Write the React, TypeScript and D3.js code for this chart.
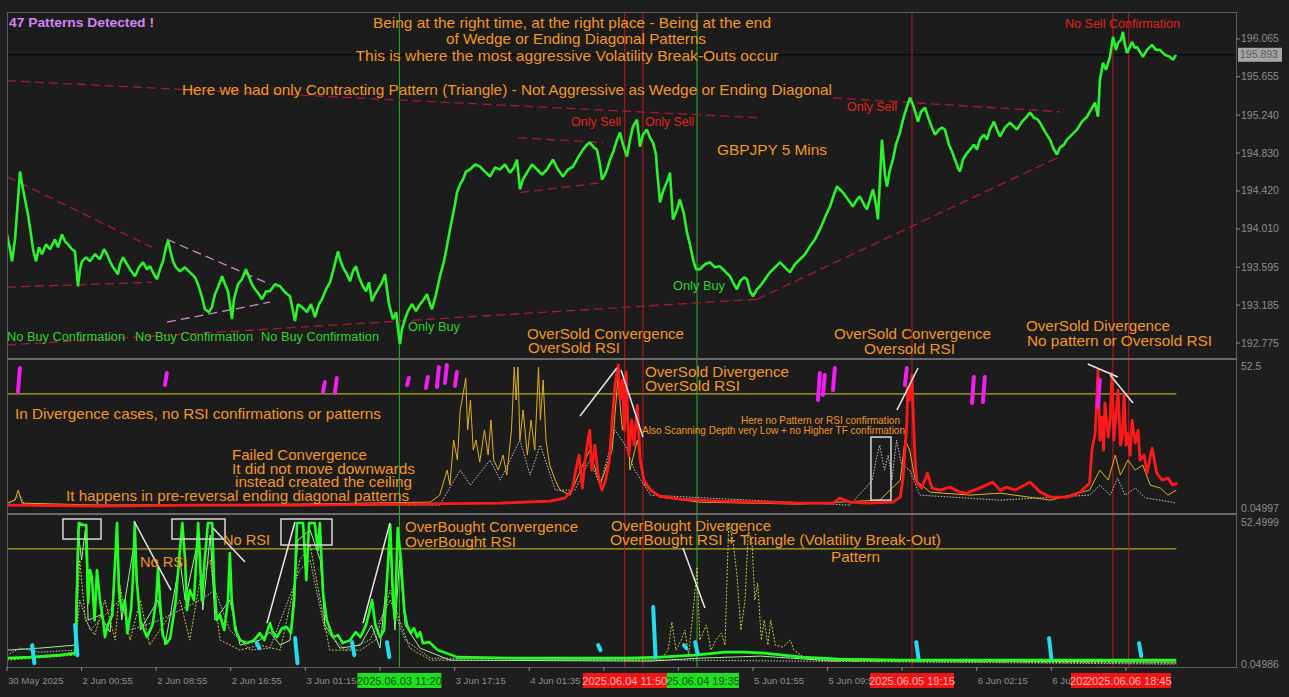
import React from 'react';
import * as d3 from 'd3';

const W = 1289, H = 697;
const X0 = 7, X1 = 1236;
const P1 = { top: 12, bottom: 358 };
const P2 = { top: 361, bottom: 511 };
const P3 = { top: 516, bottom: 666 };
const FONT = '"Liberation Sans", Arial, sans-serif';

// time axis: hours since chart start, one tick every 8 hours
const tickHours = [0, 8, 16, 24, 32, 40, 48, 56, 64, 72, 80, 88, 96, 104, 112, 120];
const tickLabels = ["30 May 2025", "2 Jun 00:55", "2 Jun 08:55", "2 Jun 16:55", "3 Jun 01:15", "3 Jun 09:15", "3 Jun 17:15", "4 Jun 01:35", "4 Jun 09:35", "4 Jun 17:35", "5 Jun 01:55", "5 Jun 09:55", "5 Jun 17:55", "6 Jun 02:15", "6 Jun 10:15", "6 Jun 18:15"];

const priceTicks = [196.065, 195.655, 195.240, 194.830, 194.420, 194.010, 193.595, 193.185, 192.775];
const currentPrice = 195.893;
const rsiLevel = 41;

// GBPJPY M5 close (hour, price)
const priceSeries: [number, number][] = [
  [0,193.950],[0.32,193.789],[0.54,193.659],[0.86,193.896],[1.18,194.328],[1.39,194.630],[1.72,194.436],[2.04,194.274],[2.25,194.166],[2.57,193.950],[2.79,193.789],[3.11,193.659],[3.43,193.810],[3.75,193.735],[4.18,193.842],[4.61,193.789],[5.15,193.896],[5.47,193.810],[5.90,193.950],[6.22,193.875],[6.54,193.842],[6.97,193.789],[7.29,193.767],[7.61,193.389],[7.83,193.573],[8.04,193.659],[8.47,193.702],[8.90,193.659],[9.44,193.735],[9.97,193.681],[10.40,193.789],[10.72,193.735],[11.04,193.659],[11.37,193.594],[11.90,193.519],[12.12,193.627],[12.44,193.702],[12.87,193.627],[13.19,193.573],[13.73,193.497],[14.15,193.594],[14.58,193.648],[15.01,193.573],[15.34,193.605],[15.76,193.519],[16.09,193.465],[16.41,193.573],[16.73,193.659],[17.05,193.810],[17.27,193.886],[17.48,193.789],[17.80,193.659],[18.12,193.594],[18.55,193.551],[19.09,193.594],[19.62,193.540],[20.16,193.486],[20.48,193.411],[20.91,193.271],[21.23,193.141],[21.66,193.109],[21.98,193.163],[22.30,193.303],[22.63,193.379],[23.06,193.497],[23.38,193.411],[23.70,193.335],[24.13,193.033],[24.34,193.249],[24.77,193.411],[25.20,193.465],[25.63,193.573],[25.84,193.519],[26.27,193.411],[26.60,193.357],[27.03,193.303],[27.35,193.249],[27.78,193.335],[28.20,193.335],[28.74,193.411],[29.28,193.389],[29.81,193.325],[30.35,193.281],[30.88,193.012],[31.20,193.195],[31.63,193.163],[32.17,193.109],[32.60,193.195],[33.03,193.055],[33.46,193.195],[33.78,193.249],[34.21,193.357],[34.64,193.432],[35.07,193.594],[35.50,193.767],[35.71,193.681],[36.03,193.594],[36.46,193.519],[36.78,193.443],[37.10,193.551],[37.43,193.605],[37.75,193.486],[38.07,193.411],[38.50,193.335],[38.82,193.432],[39.14,193.227],[39.46,193.303],[39.79,193.357],[40.21,193.432],[40.54,193.519],[40.75,193.357],[40.97,193.195],[41.39,193.033],[41.72,193.109],[41.93,192.925],[42.14,192.764],[42.36,192.925],[42.68,193.033],[43.00,193.120],[43.43,193.195],[43.86,193.120],[44.29,193.195],[44.72,193.249],[45.04,193.303],[45.36,193.195],[45.58,193.141],[46.01,193.303],[46.43,193.497],[46.86,193.659],[47.18,193.821],[47.51,194.004],[47.72,194.112],[48.04,194.274],[48.26,194.403],[48.58,194.490],[48.90,194.544],[49.22,194.630],[49.65,194.652],[50.19,194.706],[50.72,194.684],[51.26,194.630],[51.80,194.576],[52.33,194.673],[52.87,194.652],[53.40,194.706],[53.94,194.619],[54.37,194.673],[54.69,194.760],[55.01,194.436],[55.33,194.544],[55.76,194.619],[56.30,194.706],[56.84,194.652],[57.37,194.598],[57.91,194.652],[58.23,194.706],[58.55,194.760],[59.09,194.652],[59.62,194.576],[60.16,194.652],[60.70,194.684],[61.23,194.781],[61.77,194.867],[62.20,194.921],[62.52,194.943],[62.95,194.889],[63.27,194.867],[63.59,194.706],[63.81,194.544],[64.13,194.598],[64.34,194.652],[64.67,194.760],[64.99,194.835],[65.42,194.975],[65.74,195.051],[66.06,194.921],[66.49,194.792],[66.81,194.975],[67.13,195.116],[67.56,195.191],[67.88,194.900],[68.20,195.029],[68.63,195.083],[68.95,194.997],[69.28,194.943],[69.60,194.814],[69.71,194.652],[70.03,194.296],[70.35,194.414],[70.56,194.468],[70.88,194.544],[71.10,194.619],[71.42,194.112],[71.85,194.220],[72.17,194.328],[72.60,194.166],[72.92,193.972],[73.24,193.842],[73.57,193.681],[73.89,193.573],[74.32,193.573],[74.85,193.627],[75.39,193.648],[75.92,193.594],[76.46,193.605],[77.00,193.551],[77.53,193.497],[77.96,193.411],[78.28,193.357],[78.61,193.443],[79.04,193.486],[79.36,193.465],[79.68,193.335],[80.00,193.281],[80.43,193.357],[80.75,193.389],[81.29,193.465],[81.82,193.540],[82.36,193.594],[82.90,193.648],[83.43,193.594],[83.97,193.540],[84.50,193.627],[85.04,193.681],[85.58,193.735],[86.11,193.821],[86.65,193.896],[87.18,194.004],[87.72,194.134],[88.26,194.252],[88.69,194.382],[89.01,194.468],[89.33,194.436],[89.65,194.403],[90.19,194.328],[90.72,194.252],[91.15,194.328],[91.47,194.360],[91.90,194.274],[92.22,194.220],[92.55,194.328],[92.87,194.436],[93.19,194.274],[93.40,194.112],[93.62,194.544],[93.83,194.975],[94.15,194.598],[94.37,194.468],[94.69,194.652],[95.01,194.760],[95.33,194.921],[95.76,195.051],[96.09,195.191],[96.41,195.299],[96.84,195.428],[97.16,195.353],[97.48,195.245],[97.69,195.170],[98.02,195.277],[98.45,195.320],[98.87,195.191],[99.20,195.105],[99.52,195.029],[99.95,195.083],[100.27,195.105],[100.59,195.083],[101.02,194.921],[101.34,194.846],[101.66,194.760],[101.98,194.673],[102.20,194.630],[102.52,194.760],[102.84,194.814],[103.27,194.867],[103.70,194.921],[104.02,194.867],[104.34,194.975],[104.77,195.029],[105.09,194.975],[105.41,195.083],[105.84,195.170],[106.17,195.083],[106.49,195.008],[107.02,195.105],[107.56,195.159],[107.99,195.116],[108.31,195.083],[108.85,195.170],[109.28,195.213],[109.71,195.267],[110.13,195.213],[110.56,195.191],[110.78,195.159],[111.31,195.062],[111.85,194.975],[112.28,194.867],[112.60,194.814],[112.92,194.889],[113.35,194.921],[113.67,194.975],[114.21,195.029],[114.75,195.083],[115.28,195.170],[115.82,195.223],[116.25,195.299],[116.68,195.374],[117.00,195.223],[117.21,195.623],[117.53,195.806],[117.86,195.731],[118.28,195.871],[118.61,196.087],[118.93,195.946],[119.14,196.022],[119.46,196.054],[119.68,196.141],[119.89,196.000],[120.11,195.914],[120.43,195.979],[120.64,196.033],[120.96,195.968],[121.18,195.979],[121.50,195.925],[121.82,195.871],[122.25,195.946],[122.79,196.000],[123.22,195.946],[123.65,195.946],[124.18,195.892],[124.71,195.871],[125.04,195.838],[125.36,195.892]
];

// trend lines on price panel [h1, p1, h2, p2]
const redTrends: [number, number, number, number][] = [
  [0, 195.612, 80.43, 195.213],
  [88.58, 195.428, 112.92, 195.277],
  [0, 194.576, 15.55, 193.810],
  [0, 193.379, 15.55, 193.432],
  [0, 192.753, 80.43, 193.249],
  [80.43, 193.249, 112.92, 194.792],
  [54.80, 194.997, 63.91, 194.943],
  [55.01, 194.403, 63.91, 194.511],
];
const pinkTrends: [number, number, number, number][] = [
  [17.16, 193.896, 28.20, 193.411],
  [17.16, 193.001, 28.20, 193.217],
];

// signal events (vertical lines + time labels), in drawing order
const events = [
  { h: 68.2, label: "2025.06.04 13:50", color: "red" },
  { h: 74.0, label: "2025.06.04 19:35", color: "green" },
  { h: 66.25, label: "2025.06.04 11:50", color: "red" },
  { h: 42.08, label: "2025.06.03 11:20", color: "green" },
  { h: 97.05, label: "2025.06.05 19:15", color: "red" },
  { h: 118.6, label: "2025.06.06 16:50", color: "red" },
  { h: 120.3, label: "2025.06.06 18:45", color: "red" },
];

// Oscillator 1 (oversold scanner)
const osc1Red: [number, number][] = [
  [0,2.1],[9.97,1.75],[20.7,2.1],[31.4,2.1],[42.1,2.45],[52.9,2.8],[58.2,3.5],[59.8,4.55],[60.6,7.35],[61.0,14.35],[61.35,19.6],[61.7,8.05],[62.0,17.85],[62.3,24.85],[62.5,28.35],[62.7,14.35],[63.05,23.1],[63.4,12.6],[63.8,7.35],[64.2,10.85],[64.6,17.85],[64.9,31.85],[65.2,44.1],[65.55,51.1],[65.75,38.85],[66.0,45.85],[66.2,28.35],[66.4,48.65],[66.7,19.6],[67.0,31.85],[67.25,23.1],[67.6,37.1],[67.9,17.85],[68.3,10.85],[69.0,7.35],[70.0,5.25],[72.2,4.2],[76.5,3.5],[85.0,2.8],[88.6,2.8],[89.3,4.55],[90.4,3.15],[92.2,2.8],[95.0,3.15],[95.8,4.9],[96.1,11.9],[96.3,21.35],[96.5,30.8],[96.6,43.4],[96.8,38.85],[97.05,47.6],[97.2,32.9],[97.4,16.8],[97.6,9.8],[98.1,8.05],[98.7,13.3],[99.2,8.05],[100.1,7.35],[101.1,8.4],[102.2,6.65],[102.9,6.3],[104.3,8.05],[105.7,10.15],[106.5,7.35],[107.2,8.4],[108.1,7.35],[109.7,10.15],[110.8,6.65],[111.9,4.9],[113.7,4.9],[115.1,6.65],[116.1,9.8],[116.35,21.35],[116.7,27.3],[117.0,49.35],[117.2,24.85],[117.4,32.9],[117.6,21.35],[117.75,37.8],[118.1,25.9],[118.3,31.85],[118.5,48.3],[118.7,24.85],[118.85,30.8],[119.15,42.35],[119.4,23.1],[119.6,25.9],[119.8,41.3],[120.0,23.1],[120.2,27.3],[120.45,19.6],[120.65,31.85],[121.0,23.8],[121.3,28.35],[121.5,17.85],[121.95,19.6],[122.25,13.3],[122.8,22.05],[123.3,13.3],[123.9,10.85],[124.5,11.55],[125.0,9.1],[125.5,9.8]
];
const osc1Gold: [number, number][] = [
  [0,2.8],[0.86,3.85],[1.2,7.35],[1.6,2.8],[10,2.1],[31.4,2.45],[45.4,3.15],[46.4,5.6],[47.2,14.35],[47.5,9.1],[47.9,24.85],[48.3,17.85],[48.6,35.35],[48.9,40.6],[49.2,46.55],[49.4,28.35],[49.7,38.85],[50.0,21.35],[50.3,24.85],[50.7,17.15],[51.2,28.35],[51.6,19.6],[51.9,31.85],[52.2,17.85],[52.7,14.35],[53.2,19.6],[53.6,12.6],[54.1,28.35],[54.4,50.4],[54.6,38.85],[54.8,50.4],[55.0,24.85],[55.35,35.35],[55.8,19.6],[56.2,31.85],[56.6,21.35],[57.0,50.4],[57.2,31.85],[57.5,45.85],[57.8,24.85],[58.2,16.1],[58.8,10.85],[59.3,7.35],[60.4,5.6],[61.5,14.35],[62.5,21.35],[63.6,9.1],[64.9,21.35],[65.5,45.85],[66.0,28.35],[66.4,38.85],[66.8,14.35],[67.6,24.85],[68.4,9.1],[70.0,4.9],[74.3,3.15],[85,2.45],[93.6,3.85],[95.8,10.85],[96.3,24.85],[96.8,21.35],[97.4,10.85],[99,6.65],[103.3,5.6],[106.5,6.3],[111.9,3.85],[116.1,7.35],[117.2,14.35],[118.1,10.85],[118.85,19.6],[119.4,12.6],[120.2,17.85],[121.0,14.35],[121.8,16.1],[122.6,9.1],[123.7,8.05],[124.5,5.6],[125.4,7.35]
];
const osc1White: [number, number][] = [
  [0,2.1],[1.4,5.6],[1.9,2.1],[46.4,2.1],[48.6,14.35],[49.7,9.1],[51.8,17.85],[52.9,10.85],[55.0,24.85],[56.1,12.6],[57.2,23.1],[58.8,7.35],[60.9,7.35],[62.5,17.85],[63.6,9.1],[65.2,28.35],[66.3,23.1],[67.3,14.35],[69,5.6],[90.4,2.1],[92.8,10.85],[93.2,17.85],[93.6,23.1],[94.1,14.35],[94.5,19.6],[94.9,10.85],[95.4,24.85],[95.95,16.1],[96.8,14.35],[97.9,5.6],[106.5,3.85],[116.1,5.6],[117.2,9.1],[118.3,5.6],[119.1,11.55],[119.9,5.6],[121,8.05],[122.1,4.55],[123.7,3.85],[125.4,2.8]
];
// pattern marks [h, top value, bottom value]
const osc1Marks: [number, number, number][] = [
  [1.18,50.05,41.65],[16.94,48.3,44.1],[33.89,45.15,41.65],[35.17,46.55,41.3],[42.9,46.55,44.1],[44.93,46.9,43.05],[46.11,50.4,43.4],[46.97,51.1,44.8],[48.04,48.65,43.75],[86.97,48.3,38.85],[87.5,47.6,40.6],[88.58,50.05,42.35],[96.3,50.05,44.1],[103.49,46.9,37.8],[104.66,46.9,38.15],[116.99,45.85,36.4]
];

// Oscillator 2 (overbought scanner)
const osc2Green: [number, number][] = [
  [0,2.8],[2.5,3.15],[5.7,3.85],[7.3,4.55],[7.4,9.1],[7.5,26.6],[7.7,50.05],[8.15,49.35],[8.5,49.35],[8.7,22.05],[8.9,33.6],[9.1,31.15],[9.4,16.1],[9.65,33.6],[9.97,23.1],[10.3,16.1],[10.5,10.15],[10.8,14.35],[11.3,17.85],[11.6,37.1],[11.8,50.05],[12.0,26.6],[12.3,19.6],[12.65,23.1],[12.9,11.55],[13.3,19.6],[13.5,30.1],[13.7,50.05],[13.9,30.1],[14.3,16.1],[14.7,12.6],[15.0,10.15],[15.6,14.35],[16.0,23.1],[16.2,34.3],[16.4,23.1],[16.7,10.85],[17.15,8.05],[17.5,9.8],[17.8,16.1],[18.1,23.1],[18.45,37.1],[18.8,50.05],[19.1,37.1],[19.3,19.6],[19.6,26.6],[20.05,23.1],[20.3,37.1],[20.5,50.05],[20.7,37.1],[20.9,23.1],[21.2,37.1],[21.55,50.05],[22.0,50.05],[22.2,30.1],[22.5,16.1],[22.85,17.85],[23.3,12.6],[23.7,23.1],[23.9,39.55],[24.1,23.1],[24.5,12.6],[25.0,9.1],[25.7,8.05],[26.5,9.1],[27.1,11.55],[27.6,9.1],[28.2,15.05],[28.5,11.9],[28.95,10.15],[29.5,13.3],[30.0,13.65],[30.45,11.55],[30.8,23.1],[31.1,50.05],[31.75,50.05],[32.1,30.1],[32.4,50.05],[33.0,50.05],[33.35,40.6],[33.55,50.05],[33.9,25.55],[34.3,16.1],[34.95,10.15],[35.5,10.85],[36.0,8.05],[36.8,9.1],[37.4,11.9],[37.9,10.15],[38.5,14.35],[38.9,19.6],[39.15,23.1],[39.5,14.35],[40.0,10.15],[40.45,12.6],[40.75,30.1],[41.1,49.35],[41.4,23.1],[41.6,16.1],[41.9,48.3],[42.25,37.1],[42.6,19.6],[42.9,14.35],[43.3,11.55],[43.65,13.3],[44.0,10.15],[44.3,11.9],[44.6,8.05],[45.3,8.4],[46.2,5.6],[48.3,3.15],[54.5,2.8],[66.8,2.8],[70.0,3.15],[73.8,3.85],[77.0,4.9],[79.0,4.9],[81.2,4.55],[83.2,3.85],[85.3,3.15],[89.3,2.45],[95.8,2.1],[106.5,2.1],[117.2,2.1],[125.4,2.1]
];
const osc2Light: [number, number][] = [
  [0,5.6],[3.5,6.3],[7.3,7.35],[7.6,47.6],[8.0,37.1],[8.4,47.6],[8.7,16.1],[10,17.85],[11.05,11.9],[11.8,44.1],[12.3,16.1],[13.7,44.1],[14.3,12.6],[16.2,23.1],[16.95,7.35],[18.55,37.1],[19.1,23.1],[20.5,44.1],[21.0,19.6],[21.8,45.85],[22.3,16.1],[23.9,23.1],[25.0,7.35],[27.1,9.1],[28.2,11.9],[29.3,7.35],[30.35,9.1],[31.2,44.1],[32.5,47.6],[33.6,37.1],[34.1,14.35],[35.7,6.3],[37.9,7.35],[39.1,14.35],[40.0,6.3],[41.1,42.35],[41.6,12.6],[42.1,37.1],[42.7,14.35],[44.3,6.3],[47.5,2.1],[69,1.75],[74.3,2.8],[80.8,3.5],[87.2,2.1],[125.4,1.4]
];
const osc2Yellow: [number, number][] = [
  [0,2.1],[7.3,3.85],[7.8,37.1],[8.4,16.1],[9.4,10.85],[10.5,23.1],[11.6,9.1],[12.1,28.35],[13.2,9.1],[14.3,23.1],[15.3,7.35],[18.55,23.1],[19.6,9.1],[20.7,30.1],[21.8,37.1],[22.85,9.1],[25.0,5.6],[27.1,7.35],[29.3,5.6],[31.4,37.1],[32.5,42.35],[33.6,23.1],[34.6,5.6],[37.9,5.6],[39.5,9.1],[41.1,26.6],[42.1,16.1],[43.2,6.3],[45.4,2.1],[70.0,2.1],[70.9,5.6],[71.3,15.4],[71.75,5.6],[72.3,9.1],[72.7,12.6],[73.1,3.85],[73.7,23.1],[74.0,34.65],[74.3,9.1],[75.0,14.35],[75.5,5.6],[76.0,9.1],[76.6,11.55],[77.0,7.35],[77.4,50.05],[77.85,44.1],[78.3,31.15],[78.7,12.6],[79.15,23.1],[79.5,47.6],[79.9,43.05],[80.2,23.1],[80.5,29.05],[80.9,9.1],[81.2,16.1],[81.6,7.35],[81.9,16.1],[82.4,7.35],[83.2,6.65],[84,9.1],[84.4,5.6],[85.6,2.8],[88.3,1.75],[125.4,1.05]
];
const osc2White: [number, number][] = [
  [0,3.85],[1.4,6.3],[3.5,4.9],[7.3,5.6],[7.8,23.1],[8.9,12.6],[10,16.1],[12.1,23.1],[13.2,12.6],[16.4,16.1],[18.55,19.6],[20.7,23.1],[22.3,26.6],[23.9,12.6],[26.1,5.6],[28.2,6.3],[31.4,33.6],[32.5,37.1],[34.1,12.6],[36.3,5.6],[38.9,9.1],[41.1,23.1],[42.7,9.1],[45.4,2.8],[125.4,0.7]
];
const osc2Marks: [number, number, number][] = [
  [2.79,7.35,1.05],[7.4,14.35,3.85],[26.9,8.05,6.3],[31.0,9.8,1.05],[37.1,8.4,3.85],[40.85,8.4,3.15],[63.5,7.35,5.6],[69.4,20.65,3.15],[72.7,7.35,6.3],[73.9,8.4,4.55],[97.6,8.4,2.8],[111.85,9.8,2.8],[121.5,8.05,3.5]
];

// hand drawn annotations [h1, v1, h2, v2]
const osc1Strokes: [number, number, number, number][] = [
  [61.45,33.25,65.4,50.05],[65.85,49.35,68.2,25.9],[95.44,35.35,97.7,50.05],[115.9,51.45,119.14,46.9],[118.3,47.6,120.75,37.8]
];
const osc1Boxes: [number, number, number, number][] = [[92.65,25.9,94.8,3.85]];
const osc2Strokes: [number, number, number, number][] = [
  [13.62,50.75,17.59,26.6],[22.09,48.3,25.52,36.4],[27.88,15.05,30.88,50.4],[38.18,15.05,41.07,50.05],[72.49,41.3,74.85,20.3]
];
const osc2Boxes: [number, number, number, number][] = [[6.0,51.45,10.08,44.45],[17.69,51.45,23.38,44.45],[29.38,51.45,34.85,42.35]];

const ORANGE = "#f2971f";
const RED = "#e2231a";
const GREEN_T = "#2fd22f";
// free text annotations (w = rendered width)
const notes = [
  { t: "Being at the right time, at the right place - Being at the end", x: 572, y: 28, s: 15, w: 398, c: ORANGE, a: "middle" },
  { t: "of Wedge or Ending Diagonal Patterns", x: 576, y: 44, s: 15, w: 260, c: ORANGE, a: "middle" },
  { t: "This is where the most  aggressive Volatility Break-Outs occur", x: 567, y: 61, s: 15, w: 423, c: ORANGE, a: "middle" },
  { t: "Here we had only Contracting Pattern (Triangle) - Not Aggressive as Wedge or Ending Diagonal", x: 182, y: 95, s: 15, w: 650, c: ORANGE, a: "start" },
  { t: "No Sell Confirmation", x: 1065, y: 28, s: 12.5, w: 115, c: RED, a: "start" },
  { t: "Only Sell", x: 571, y: 126, s: 12.5, w: 50, c: RED, a: "start" },
  { t: "Only Sell", x: 645, y: 126, s: 12.5, w: 49, c: RED, a: "start" },
  { t: "Only Sell", x: 847, y: 111, s: 12.5, w: 50, c: RED, a: "start" },
  { t: "GBPJPY 5 Mins", x: 717, y: 155, s: 15, w: 110, c: ORANGE, a: "start" },
  { t: "Only Buy", x: 673, y: 290, s: 12.5, w: 52, c: GREEN_T, a: "start" },
  { t: "Only Buy", x: 408, y: 331, s: 12.5, w: 52, c: GREEN_T, a: "start" },
  { t: "No Buy Confirmation", x: 7, y: 341, s: 12.5, w: 118, c: GREEN_T, a: "start" },
  { t: "No Buy Confirmation", x: 135, y: 341, s: 12.5, w: 118, c: GREEN_T, a: "start" },
  { t: "No Buy Confirmation", x: 261, y: 341, s: 12.5, w: 118, c: GREEN_T, a: "start" },
  { t: "OverSold Convergence", x: 527, y: 339, s: 15, w: 157, c: ORANGE, a: "start" },
  { t: "OverSold RSI", x: 528, y: 353, s: 15, w: 92, c: ORANGE, a: "start" },
  { t: "OverSold Convergence", x: 834, y: 339, s: 15, w: 157, c: ORANGE, a: "start" },
  { t: "Oversold RSI", x: 864, y: 354, s: 15, w: 91, c: ORANGE, a: "start" },
  { t: "OverSold Divergence", x: 1026, y: 331, s: 15, w: 144, c: ORANGE, a: "start" },
  { t: "No pattern or Oversold RSI", x: 1027, y: 346, s: 15, w: 185, c: ORANGE, a: "start" },
  { t: "OverSold Divergence", x: 645, y: 377, s: 15, w: 144, c: ORANGE, a: "start" },
  { t: "OverSold RSI", x: 645, y: 391, s: 15, w: 95, c: ORANGE, a: "start" },
  { t: "In Divergence cases, no RSI confirmations or patterns", x: 15, y: 419, s: 15, w: 366, c: ORANGE, a: "start" },
  { t: "Here no Pattern or RSI confirmation", x: 741, y: 424, s: 10.5, w: 159, c: ORANGE, a: "start" },
  { t: "Also Scanning Depth very Low + no Higher TF confirmation", x: 642, y: 434, s: 10.5, w: 263, c: ORANGE, a: "start" },
  { t: "Failed Convergence", x: 232, y: 460, s: 15, w: 135, c: ORANGE, a: "start" },
  { t: "It did not move downwards", x: 232, y: 474, s: 15, w: 183, c: ORANGE, a: "start" },
  { t: "instead created the ceiling", x: 235, y: 487, s: 15, w: 177, c: ORANGE, a: "start" },
  { t: "It happens in pre-reversal ending diagonal patterns", x: 66, y: 501, s: 15, w: 343, c: ORANGE, a: "start" },
  { t: "No RSI", x: 223, y: 545, s: 15, w: 47, c: ORANGE, a: "start" },
  { t: "No RSI", x: 140, y: 567, s: 15, w: 47, c: ORANGE, a: "start" },
  { t: "OverBought Convergence", x: 405, y: 532, s: 15, w: 173, c: ORANGE, a: "start" },
  { t: "OverBought RSI", x: 405, y: 547, s: 15, w: 111, c: ORANGE, a: "start" },
  { t: "OverBought Divergence", x: 611, y: 531, s: 15, w: 160, c: ORANGE, a: "start" },
  { t: "OverBought RSI + Triangle (Volatility Break-Out)", x: 610, y: 545, s: 15, w: 331, c: ORANGE, a: "start" },
  { t: "Pattern", x: 831, y: 562, s: 15, w: 49, c: ORANGE, a: "start" },
];

export default function App() {
  const x = d3.scaleLinear().domain([0, 131.8]).range([X0, X1]);
  const y1 = d3.scaleLinear().domain([192.613, 196.356]).range([P1.bottom, P1.top]);
  const y2 = d3.scaleLinear().domain([0.04997, 52.5]).range([P2.bottom, P2.top]);
  const y3 = d3.scaleLinear().domain([0.04986, 52.4999]).range([P3.bottom, P3.top]);

  const mk = (ys: d3.ScaleLinear<number, number>) =>
    d3.line<[number, number]>().x(d => x(d[0])).y(d => ys(d[1]));
  const l1 = mk(y1), l2 = mk(y2), l3 = mk(y3);

  const axisColor = "#8c8c8c";
  const frame = "#5c5c5c";
  const BOX_W = 84;

  // tick labels whose start is hidden under an event box are not drawn (covered in the original)
  const covered = (h: number) => events.some(e => Math.abs(x(h) + 2 - x(e.h)) < BOX_W / 2 && x(h) + 2 > x(e.h) - BOX_W / 2);

  return (
    <svg width={W} height={H} style={{ position: 'fixed', left: 0, top: 0, background: '#1d1d1d' }} fontFamily={FONT}>
      <rect x={0} y={0} width={W} height={H} fill="#1e1e1e" />
      <rect x={X0} y={P1.top} width={X1 - X0} height={P3.bottom + 1 - P1.top} fill="#1c1c1c" />

      <defs>
        <clipPath id="c1"><rect x={X0} y={P1.top} width={X1 - X0} height={P1.bottom - P1.top} /></clipPath>
        <clipPath id="c2"><rect x={X0} y={P2.top - 1} width={X1 - X0} height={P2.bottom - P2.top + 2} /></clipPath>
        <clipPath id="c3"><rect x={X0} y={P3.top - 1} width={X1 - X0} height={P3.bottom - P3.top + 2} /></clipPath>
      </defs>

      {/* current price line */}
      <line x1={X0} x2={X1} y1={y1(currentPrice)} y2={y1(currentPrice)} stroke="#000" strokeWidth={1} />

      {/* level lines */}
      <line x1={X0} x2={x(125.4)} y1={y2(rsiLevel)} y2={y2(rsiLevel)} stroke="#b5a823" strokeWidth={1.2} />
      <line x1={X0} x2={x(125.4)} y1={y3(rsiLevel)} y2={y3(rsiLevel)} stroke="#b5a823" strokeWidth={1.2} />

      {/* vertical event lines */}
      {events.map((e, i) => (
        <line key={i} x1={x(e.h)} x2={x(e.h)} y1={P1.top} y2={P3.bottom + 1}
          stroke={e.color === 'red' ? '#c4161c' : '#22b822'} strokeWidth={1} />
      ))}

      {/* price panel */}
      <g clipPath="url(#c1)">
        {redTrends.map((t, i) => (
          <line key={i} x1={x(t[0])} y1={y1(t[1])} x2={x(t[2])} y2={y1(t[3])}
            stroke="#a8183a" strokeWidth={1.3} strokeDasharray="9 5" />
        ))}
        {pinkTrends.map((t, i) => (
          <line key={i} x1={x(t[0])} y1={y1(t[1])} x2={x(t[2])} y2={y1(t[3])}
            stroke="#c88ac8" strokeWidth={1.3} strokeDasharray="9 5" />
        ))}
        <path d={l1(priceSeries) || ''} fill="none" stroke="#2cf22c" strokeWidth={2.6} strokeLinejoin="bevel" />
      </g>

      {/* oscillator 1 */}
      <g clipPath="url(#c2)">
        <path d={l2(osc1White) || ''} fill="none" stroke="#d8d8d8" strokeWidth={0.9} strokeDasharray="1.5 1.5" />
        <path d={l2(osc1Gold) || ''} fill="none" stroke="#e0b020" strokeWidth={1} />
        <path d={l2(osc1Red) || ''} fill="none" stroke="#ff1a1a" strokeWidth={2.8} strokeLinejoin="round" />
        {osc1Marks.map((m, i) => (
          <line key={i} x1={x(m[0] + 0.2)} y1={y2(m[1])} x2={x(m[0])} y2={y2(m[2])}
            stroke="#f01ef0" strokeWidth={4} strokeLinecap="round" />
        ))}
        {osc1Strokes.map((s, i) => (
          <line key={i} x1={x(s[0])} y1={y2(s[1])} x2={x(s[2])} y2={y2(s[3])} stroke="#e8e8e8" strokeWidth={1.5} />
        ))}
        {osc1Boxes.map((b, i) => (
          <rect key={i} x={x(b[0])} y={y2(b[1])} width={x(b[2]) - x(b[0])} height={y2(b[3]) - y2(b[1])}
            fill="none" stroke="#d8d8d8" strokeWidth={1.5} />
        ))}
      </g>

      {/* oscillator 2 */}
      <g clipPath="url(#c3)">
        <path d={l3(osc2White) || ''} fill="none" stroke="#d8d8d8" strokeWidth={0.9} strokeDasharray="1.5 1.5" />
        <path d={l3(osc2Yellow) || ''} fill="none" stroke="#c8c840" strokeWidth={1} strokeDasharray="2 1.5" />
        <path d={l3(osc2Light) || ''} fill="none" stroke="#9ef09e" strokeWidth={1} />
        <path d={l3(osc2Green) || ''} fill="none" stroke="#22ff22" strokeWidth={2.6} strokeLinejoin="round" />
        {osc2Marks.map((m, i) => (
          <line key={i} x1={x(m[0] - 0.1)} y1={y3(m[1])} x2={x(m[0] + 0.15)} y2={y3(m[2])}
            stroke="#22dcf0" strokeWidth={4} strokeLinecap="round" />
        ))}
        {osc2Strokes.map((s, i) => (
          <line key={i} x1={x(s[0])} y1={y3(s[1])} x2={x(s[2])} y2={y3(s[3])} stroke="#e8e8e8" strokeWidth={1.5} />
        ))}
        {osc2Boxes.map((b, i) => (
          <rect key={i} x={x(b[0])} y={y3(b[1])} width={x(b[2]) - x(b[0])} height={y3(b[3]) - y3(b[1])}
            fill="none" stroke="#d8d8d8" strokeWidth={1.5} />
        ))}
      </g>

      {/* frames */}
      <rect x={X0 + 0.5} y={P1.top + 0.5} width={X1 - X0} height={P3.bottom + 1 - P1.top} fill="none" stroke={frame} strokeWidth={1} />
      <rect x={X0} y={358} width={X1 - X0 + 1} height={2} fill="#6a6a6a" />
      <rect x={X0} y={513} width={X1 - X0 + 1} height={2} fill="#6a6a6a" />

      {/* price axis */}
      {priceTicks.map((p, i) => (
        <g key={i}>
          <line x1={X1} x2={X1 + 4} y1={y1(p)} y2={y1(p)} stroke={axisColor} />
          <text x={X1 + 5} y={y1(p) + 3.5} fontSize={10.5} fill={axisColor}>{p.toFixed(3)}</text>
        </g>
      ))}
      <rect x={X1 + 2} y={y1(currentPrice) - 7} width={44} height={14} fill="#a6a6a6" />
      <text x={X1 + 4} y={y1(currentPrice) + 3.5} fontSize={10.5} fill="#5a5a5a">{currentPrice.toFixed(3)}</text>

      <text x={X1 + 5} y={P2.top + 9} fontSize={10.5} fill={axisColor}>52.5</text>
      <text x={X1 + 5} y={P2.bottom + 1} fontSize={10.5} fill={axisColor}>0.04997</text>
      <text x={X1 + 5} y={P3.top + 10} fontSize={10.5} fill={axisColor}>52.4999</text>
      <text x={X1 + 5} y={P3.bottom + 2} fontSize={10.5} fill={axisColor}>0.04986</text>

      {/* time axis */}
      {tickHours.map((h, i) => (
        <g key={i}>
          <line x1={x(h)} x2={x(h)} y1={P3.bottom + 1} y2={P3.bottom + 5} stroke={axisColor} />
          {!covered(h) && (
            <text x={x(h) + 1} y={684} fontSize={9.6} fill={axisColor}>{tickLabels[i]}</text>
          )}
        </g>
      ))}
      {events.map((e, i) => (
        <g key={i}>
          <rect x={x(e.h) - BOX_W / 2} y={673} width={BOX_W} height={15} fill={e.color === 'red' ? '#f01515' : '#1fe01f'} />
          <text x={x(e.h)} y={684.5} fontSize={11} textAnchor="middle" fill={e.color === 'red' ? '#ffb3b3' : '#145214'}>{e.label}</text>
        </g>
      ))}

      {/* annotations */}
      <text x={9} y={27} fontSize={13} fontWeight="bold" fill="#d582f5" textLength={145} lengthAdjust="spacingAndGlyphs">47 Patterns Detected !</text>
      {notes.map((n, i) => (
        <text key={i} x={n.x} y={n.y} fontSize={n.s} fill={n.c} textAnchor={n.a as any}
          textLength={n.w} lengthAdjust="spacingAndGlyphs">{n.t}</text>
      ))}
    </svg>
  );
}
